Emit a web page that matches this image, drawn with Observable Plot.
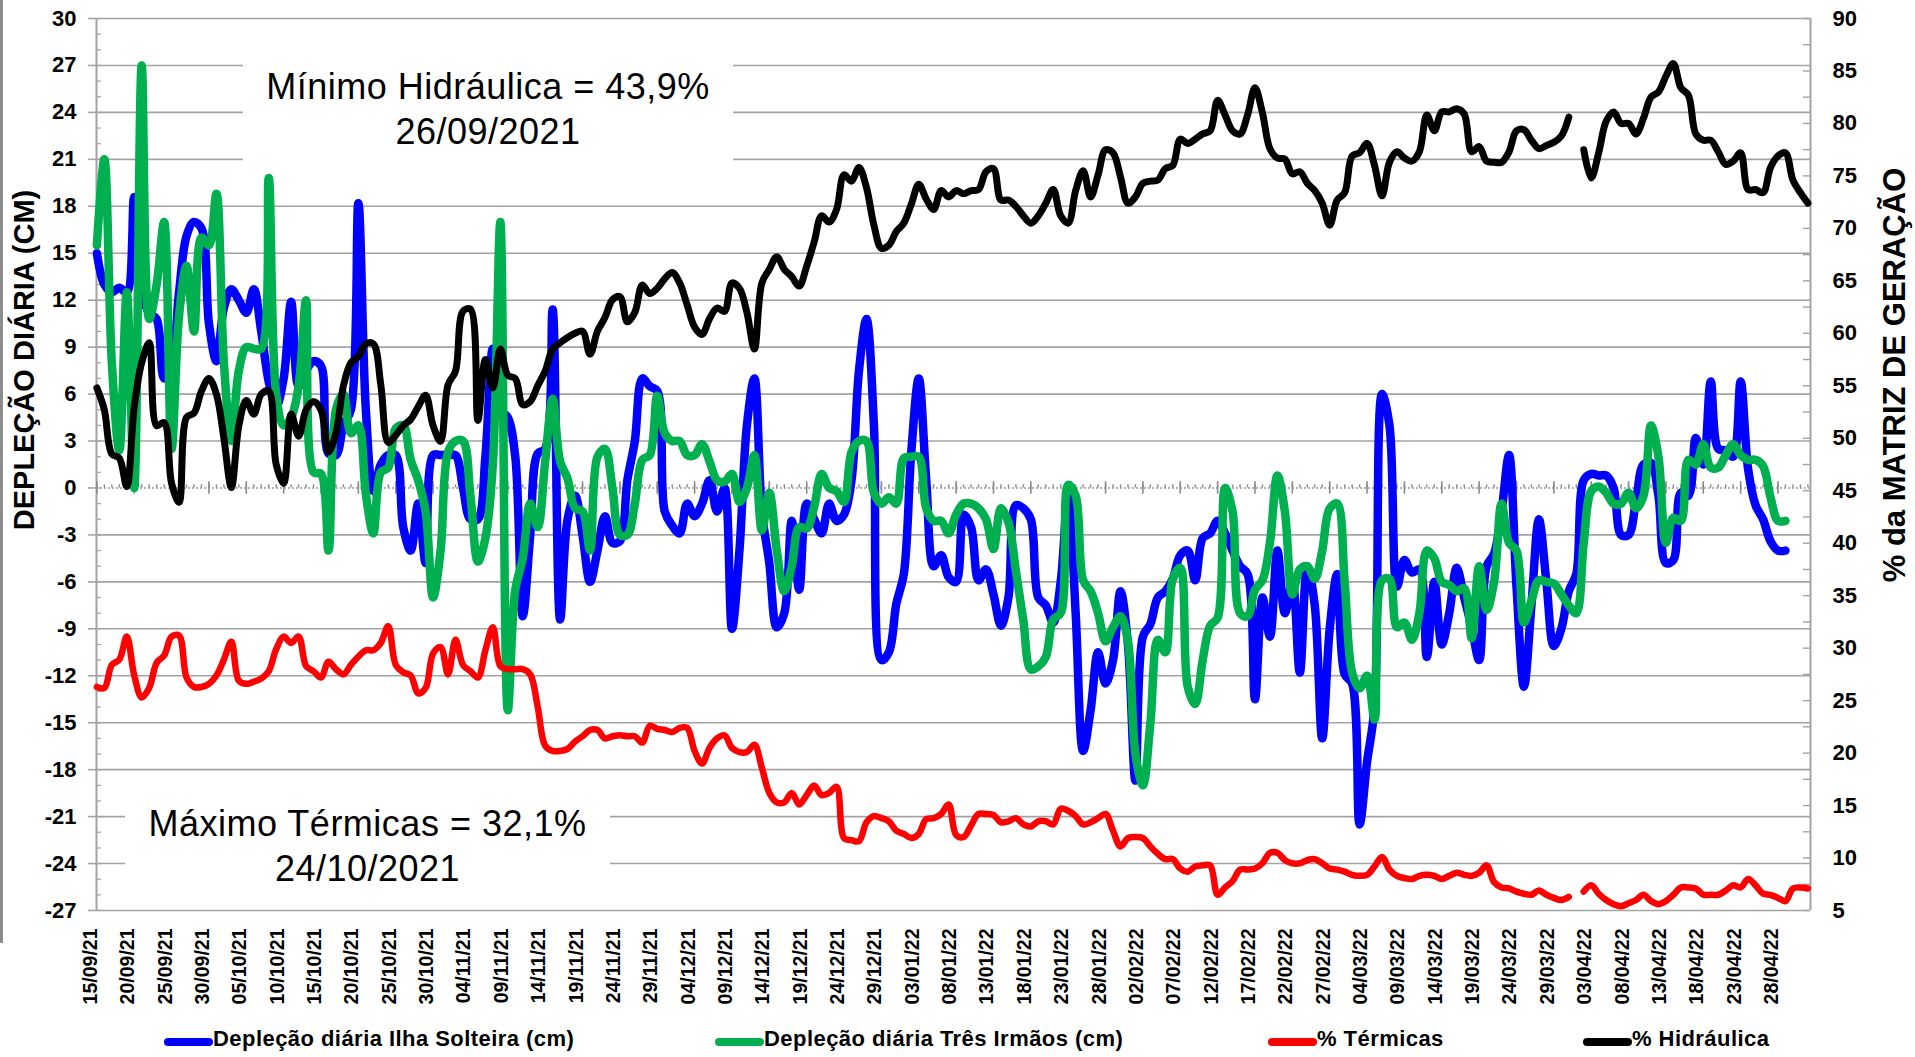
<!DOCTYPE html>
<html>
<head>
<meta charset="utf-8">
<script src="https://cdn.jsdelivr.net/npm/d3@7"></script>
<script src="https://cdn.jsdelivr.net/npm/@observablehq/plot@0.6"></script>
<style>
  body { margin: 0; background: #fff; }
  #wrap { position: relative; width: 1915px; height: 1057px; background: #fff; overflow: hidden;
          font-family: "Liberation Sans", Arial, sans-serif; color: #000; }
  #wrap svg { position: absolute; left: 0; top: 0; }
  .border { position: absolute; left: 0; top: 0; width: 3px; height: 943px; background: #8c8c8c; }
  .ytitle { position: absolute; white-space: nowrap; font-weight: bold; transform: translate(-50%, -50%) rotate(-90deg); }
  .note { position: absolute; background: #fff; text-align: center; font-size: 36px; line-height: 45px; letter-spacing: 0.5px; box-sizing: border-box; }
  .sw { position: absolute; height: 8px; border-radius: 4px; }
  .lt { position: absolute; font-weight: bold; font-size: 22px; line-height: 26px; letter-spacing: 0.45px; white-space: nowrap; }
</style>
</head>
<body>
<div id="wrap"></div>
<script>
// ---------- data ----------
const firstDay = "2021-09-15";           // one value per day from this date
const seriesNames = ["Depleção diária Ilha Solteira (cm)", "Depleção diária Três Irmãos (cm)", "% Térmicas", "% Hidráulica"];

// Depleção diária Ilha Solteira (cm) – left axis
const ilhaSolteira = [
  15.0,13.0,12.5,12.8,12.5,18.6,12.5,11.2,10.8,7.0,
  7.8,12.5,16.1,17.0,16.6,10.5,8.1,11.5,12.7,12.0,
  11.2,12.7,10.0,6.8,5.2,7.0,11.9,6.5,7.5,8.1,
  7.8,2.2,2.1,4.0,5.0,18.2,5.0,-0.2,1.5,2.1,
  2.1,-2.5,-4.0,-1.0,-4.8,2.1,2.1,2.1,2.1,0.0,
  -2.0,-2.0,2.0,8.9,5.0,4.5,2.0,-8.2,-3.0,2.2,
  2.5,11.4,-8.4,-2.0,-0.5,-3.0,-6.0,-4.0,-1.8,-3.5,
  -3.4,0.5,3.0,7.0,6.5,6.2,-1.5,-2.4,-2.9,-1.0,
  -1.8,-1.0,0.5,-1.5,0.0,-9.0,-4.0,4.0,7.0,-1.5,
  -4.8,-8.9,-8.0,-2.1,-6.5,-1.0,-2.0,-2.9,-1.0,-2.1,
  -1.7,0.5,7.5,10.8,4.0,-11.0,-10.5,-7.4,-5.5,2.3,
  7.0,0.5,-5.0,-4.3,-5.7,-6.0,-1.7,-2.5,-5.9,-5.2,
  -6.8,-8.8,-7.0,-1.1,-1.3,-2.0,-7.0,-7.5,-8.6,-6.0,
  -0.3,-8.0,-16.8,-14.2,-10.5,-12.5,-11.0,-6.6,-10.0,-18.7,
  -9.5,-8.7,-7.0,-6.6,-5.8,-4.3,-4.0,-5.9,-3.2,-2.9,
  -2.1,-2.9,-4.0,-5.0,-5.5,-13.5,-7.0,-9.5,-4.0,-8.0,
  -6.0,-11.8,-5.0,-7.5,-16.0,-9.0,-5.5,-11.9,-12.5,-21.5,
  -17.5,-14.0,6.0,4.0,-6.3,-4.6,-5.4,-5.2,-10.8,-6.0,
  -10.0,-8.0,-5.1,-7.0,-8.9,-11.0,-5.0,-4.2,-1.5,2.1,
  -6.3,-12.7,-7.5,-2.0,-6.0,-10.1,-9.0,-6.6,-5.5,0.5,
  0.9,0.8,0.8,0.0,-3.0,-3.0,-0.8,1.5,1.6,-0.5,
  -4.8,-4.6,-0.3,-0.5,3.2,1.5,6.8,2.5,2.4,2.0,
  6.8,1.2,-1.1,-2.0,-3.4,-4.0,-4.0
];

// Depleção diária Três Irmãos (cm) – left axis
const tresIrmaos = [
  15.5,21.0,8.0,2.4,12.5,0.0,27.0,10.8,13.0,17.0,
  2.5,11.0,14.2,10.0,16.0,15.5,18.8,8.0,3.0,7.5,
  9.0,8.9,8.9,19.8,6.0,4.0,4.5,6.5,12.0,1.0,
  0.9,-4.0,5.0,6.0,3.5,4.0,-0.4,-2.9,1.0,1.3,
  3.8,4.0,1.8,0.5,-1.5,-7.0,-4.0,2.3,3.0,3.0,
  -0.5,-4.7,-3.2,1.5,17.0,-14.2,-6.5,-4.5,-1.0,-2.5,
  1.7,5.7,1.7,0.6,-1.3,-1.5,-4.0,2.0,2.5,0.0,
  -3.0,-3.0,-1.0,1.8,2.1,5.9,3.5,3.0,3.0,2.1,
  2.1,2.8,1.7,0.5,0.4,0.9,-0.9,0.0,2.1,-2.7,
  -0.3,-4.0,-6.6,-5.0,-2.5,-2.6,-1.2,0.9,0.0,-0.2,
  -0.9,2.3,3.0,3.0,-0.3,-1.0,-0.6,-1.0,1.9,2.0,
  2.0,-1.3,-2.1,-2.1,-2.9,-1.7,-1.0,-1.0,-1.3,-2.0,
  -3.9,-1.3,-2.2,-5.3,-8.5,-11.6,-11.4,-10.8,-8.4,-8.0,
  0.2,-0.5,-5.9,-6.6,-8.0,-9.8,-8.9,-8.2,-9.8,-17.0,
  -19.0,-15.0,-9.7,-10.5,-5.8,-5.1,-12.7,-13.8,-11.0,-8.8,
  -8.3,0.0,-1.5,-8.0,-8.2,-6.5,-5.9,-3.5,0.8,-1.5,
  -6.8,-5.2,-5.0,-5.8,-4.0,-1.3,-1.0,-6.0,-11.8,-12.8,
  -12.0,-14.8,-5.9,-5.8,-8.9,-8.6,-9.7,-8.0,-4.0,-4.5,
  -6.0,-6.2,-6.6,-6.4,-9.6,-5.0,-7.8,-6.0,-1.0,-3.5,
  -4.0,-8.6,-7.2,-5.9,-6.0,-6.1,-6.8,-7.5,-8.0,-3.5,
  -0.2,0.1,-0.3,-1.0,-1.0,-0.3,-1.3,-0.5,4.0,2.0,
  -3.5,-1.9,-2.1,1.8,1.5,2.8,1.3,1.3,2.1,2.8,
  2.1,1.8,1.8,1.4,-0.6,-2.1,-2.1
];

// % Térmicas – right axis (null = no data)
const termicas = [
  26.3,26.2,28.4,28.9,31.1,27.4,25.3,26.2,28.6,29.3,
  31.1,31.2,27.2,26.3,26.3,26.6,27.4,28.9,30.6,26.9,
  26.6,26.8,27.1,27.8,29.9,31.1,30.5,31.1,28.3,27.8,
  27.2,28.7,28.0,27.5,28.4,29.2,29.8,29.8,30.5,32.1,
  28.4,27.7,27.4,25.7,26.2,29.5,30.1,27.5,30.8,28.4,
  27.8,27.2,29.8,32.0,28.3,28.0,28.0,28.0,27.5,24.4,
  20.7,20.2,20.2,20.4,21.1,21.6,22.2,22.2,21.4,21.6,
  21.7,21.6,21.6,21.0,22.6,22.3,22.2,22.0,22.4,22.4,
  20.2,19.0,20.5,21.4,21.7,20.5,20.1,20.1,20.8,18.6,
  16.2,15.3,15.3,16.2,15.1,16.0,16.9,16.0,16.2,16.8,
  11.9,11.7,11.6,13.4,14.0,13.8,13.5,12.6,12.3,11.9,
  12.3,13.7,13.8,14.2,15.1,12.2,12.0,13.1,14.2,14.2,
  14.1,13.4,13.5,13.8,13.2,13.0,13.5,13.5,13.2,14.7,
  14.5,14.0,13.2,13.4,13.8,14.2,12.6,11.1,11.9,12.0,
  11.9,11.1,10.4,9.9,9.9,9.0,8.7,9.2,9.3,9.3,
  6.5,7.2,7.8,8.9,8.9,9.0,9.5,10.5,10.5,9.8,
  9.5,9.5,9.8,9.9,9.5,9.0,8.9,8.7,8.4,8.3,
  8.4,9.2,10.1,8.9,8.3,8.1,8.0,8.3,8.4,8.3,
  8.0,8.3,8.6,8.4,8.3,8.6,9.3,7.7,7.2,7.1,
  6.8,6.6,6.5,6.9,6.5,6.2,6.0,6.3,null,6.8,
  7.4,6.6,6.0,5.6,5.4,5.7,6.0,6.5,5.9,5.6,
  5.9,6.5,7.2,7.2,7.1,6.5,6.5,6.5,6.9,7.4,
  7.2,8.0,7.4,6.6,6.5,6.2,5.9,7.1,7.2,7.1
];

// % Hidráulica – right axis (null = no data)
const hidraulica = [
  54.8,52.7,48.5,48.1,45.4,53.0,57.2,59.1,51.2,51.5,
  45.7,43.9,52.0,52.4,54.5,55.7,54.2,50.0,45.3,51.2,
  53.6,52.3,54.2,54.5,47.5,45.7,52.3,50.2,52.7,53.5,
  52.7,48.7,50.5,55.0,57.2,57.8,59.0,59.0,55.1,49.6,
  50.3,51.2,51.8,53.0,54.1,51.2,49.7,55.1,56.4,62.1,
  62.3,51.7,57.5,54.8,58.5,56.0,55.7,53.2,53.5,55.0,
  56.4,58.5,59.1,59.6,60.0,60.2,58.0,60.2,61.5,63.2,
  63.5,61.1,62.0,64.6,63.8,64.3,65.2,65.8,64.8,62.7,
  60.6,59.9,61.4,62.4,62.1,64.8,64.3,62.0,58.5,64.8,
  66.1,67.3,66.1,65.4,64.5,66.4,68.7,71.2,70.6,71.8,
  75.1,74.5,75.8,73.9,70.3,68.1,68.4,69.7,70.5,72.3,
  74.2,72.8,71.8,73.6,73.0,73.6,73.3,73.6,73.7,75.4,
  75.7,72.7,72.7,72.1,71.2,70.5,71.2,72.4,73.7,71.2,
  70.5,73.6,75.5,73.0,75.1,77.5,77.2,74.9,72.4,73.0,
  74.3,74.5,74.6,75.7,76.0,78.5,78.1,78.5,79.0,79.3,
  82.2,80.8,79.3,79.0,80.8,83.4,81.0,77.6,76.7,76.6,
  75.2,75.4,74.3,73.6,72.4,70.3,72.7,73.4,76.9,77.2,
  78.1,76.0,73.1,76.3,77.3,76.7,76.4,77.3,80.8,79.3,
  81.1,81.1,81.4,80.9,77.3,77.8,76.4,76.3,76.3,77.3,
  79.3,79.4,78.4,77.6,77.9,78.2,78.8,80.6,null,77.5,
  74.8,77.2,80.2,81.1,80.0,80.0,79.0,80.5,82.5,83.0,
  84.5,85.7,83.4,82.7,79.0,78.4,78.4,77.3,76.1,76.4,
  77.2,73.7,73.7,73.4,75.8,76.9,77.2,74.6,73.4,72.4
];

const leftTicks  = [-27,-24,-21,-18,-15,-12,-9,-6,-3,0,3,6,9,12,15,18,21,24,27,30];
const rightTicks = [5,10,15,20,25,30,35,40,45,50,55,60,65,70,75,80,85,90];
const leftTitle  = "DEPLEÇÃO DIÁRIA (CM)";
const rightTitle = "% da MATRIZ DE GERAÇÃO";
const note1 = ["Mínimo Hidráulica = 43,9%", "26/09/2021"];
const note2 = ["Máximo Térmicas = 32,1%", "24/10/2021"];
const colors = ["#0000ff", "#00b050", "#ff0000", "#000000"];

// ---------- helpers ----------
const DAY = 864e5;
const day0 = new Date(firstDay + "T00:00:00Z");
const dayAt = i => new Date(+day0 + i * DAY);
const nDays = hidraulica.length;                        // 15/09/21 .. 02/05/22
const allDays = d3.range(nDays).map(dayAt);
const labelDays = allDays.filter((d, i) => i % 5 === 0 && i <= 225);
// secondary (right) axis 5..90 shares the frame with the left axis -27..30
const toLeft = r => (r == null ? NaN : -27 + (r - 5) * 57 / 85);
const fmt = d3.utcFormat("%d/%m/%y");

const rows = (vals, map = v => v) => vals.map((v, i) => ({date: dayAt(i), y: v == null ? NaN : map(v)}));
const blueRows  = rows(ilhaSolteira);
const greenRows = rows(tresIrmaos);
const redRows   = rows(termicas, toLeft);
const blackRows = rows(hidraulica, toLeft);

const leftMinor = d3.range(-27, 31, 1);
const rightMinor = d3.range(5, 90.01, 2.5);

// ---------- layout ----------
const W = 1915, H = 1025;
const mL = 96, mR = 105, mT = 18, mB = H - 910;
const frameW = W - mL - mR;
const xDom = [new Date(+day0 - 0.05 * DAY), new Date(+day0 + 229.35 * DAY)];
const grid = "#a3a3a3";

const chart = Plot.plot({
  width: W, height: H,
  marginLeft: mL, marginRight: mR, marginTop: mT, marginBottom: mB,
  style: {fontFamily: "'Liberation Sans', Arial, sans-serif", background: "transparent", overflow: "visible", color: "#000"},
  x: {type: "utc", domain: xDom, axis: null},
  y: {domain: [-27, 30], axis: null},
  marks: [
    // gridlines
    Plot.ruleY(leftTicks.filter(v => v !== 0), {y: d => d, stroke: grid, strokeWidth: 1.6}),
    // left major ticks (outward)
    Plot.tickY(leftTicks, {y: d => d, stroke: grid, strokeWidth: 1.6, dx: -8, insetRight: frameW - 8}),
    // left minor ticks (inward)
    Plot.tickY(leftMinor, {y: d => d, stroke: grid, strokeWidth: 1.2, insetRight: frameW - 5}),
    // right axis ticks (inward)
    Plot.tickY(rightMinor, {y: toLeft, stroke: grid, strokeWidth: 1.4, insetLeft: frameW - 7}),
    // frame sides
    Plot.ruleX([xDom[0]], {stroke: grid, strokeWidth: 2}),
    Plot.ruleX([xDom[1]], {stroke: grid, strokeWidth: 2}),
    // category axis crossing at 0
    Plot.ruleY([0], {stroke: "#9a9a9a", strokeWidth: 1.4, strokeDasharray: "2,2"}),
    Plot.ruleX(allDays, {x: d => d, y1: 0, y2: 0.2, stroke: "#8a8a8a", strokeWidth: 1.4}),
    Plot.ruleX(labelDays, {x: d => d, y1: -0.4, y2: 0.4, stroke: "#8a8a8a", strokeWidth: 1.6}),
    // tick labels
    Plot.text(leftTicks, {y: d => d, text: d => String(d), frameAnchor: "left", textAnchor: "end", dx: -20,
      fontSize: 22, fontWeight: "bold", fill: "#000"}),
    Plot.text(rightTicks, {y: toLeft, text: d => String(d), frameAnchor: "right", textAnchor: "start", dx: 22,
      fontSize: 22, fontWeight: "bold", fill: "#000"}),
    Plot.text(labelDays, {x: d => d, text: d => fmt(d), frameAnchor: "bottom", rotate: -90, textAnchor: "end",
      dy: 18, fontSize: 19.5, fontWeight: "bold", fill: "#000"}),
    // series
    Plot.line(blueRows,  {x: "date", y: "y", stroke: colors[0], strokeWidth: 8.5, curve: "catmull-rom", strokeLinejoin: "round", strokeLinecap: "round"}),
    Plot.line(greenRows, {x: "date", y: "y", stroke: colors[1], strokeWidth: 8.5, curve: "catmull-rom", strokeLinejoin: "round", strokeLinecap: "round"}),
    Plot.line(redRows,   {x: "date", y: "y", stroke: colors[2], strokeWidth: 6.5, curve: "catmull-rom", strokeLinejoin: "round", strokeLinecap: "round"}),
    Plot.line(blackRows, {x: "date", y: "y", stroke: colors[3], strokeWidth: 7,   curve: "catmull-rom", strokeLinejoin: "round", strokeLinecap: "round"})
  ]
});

const wrap = document.getElementById("wrap");
wrap.appendChild(chart);

function addDiv(cls, styleText, html) {
  const el = document.createElement("div");
  el.className = cls;
  el.style.cssText = styleText;
  el.innerHTML = html;
  wrap.appendChild(el);
  return el;
}
addDiv("border", "", "");
addDiv("ytitle", "left:24px;top:360px;font-size:29px;", leftTitle);
addDiv("ytitle", "left:1895px;top:375px;font-size:31px;", rightTitle);
addDiv("note", "left:243px;top:42px;width:490px;height:128px;padding-top:22px;", note1.join("<br>"));
addDiv("note", "left:125px;top:785px;width:485px;height:110px;padding-top:16px;", note2.join("<br>"));

// legend
const legendPos = [[164, 213], [715, 764], [1268, 1317], [1583, 1632]];
seriesNames.forEach((name, i) => {
  const [sx, tx] = legendPos[i];
  addDiv("sw", `left:${sx}px;top:1038px;width:${tx - sx}px;background:${colors[i]};`, "");
  addDiv("lt", `left:${tx}px;top:1026px;`, name);
});
</script>
</body>
</html>
